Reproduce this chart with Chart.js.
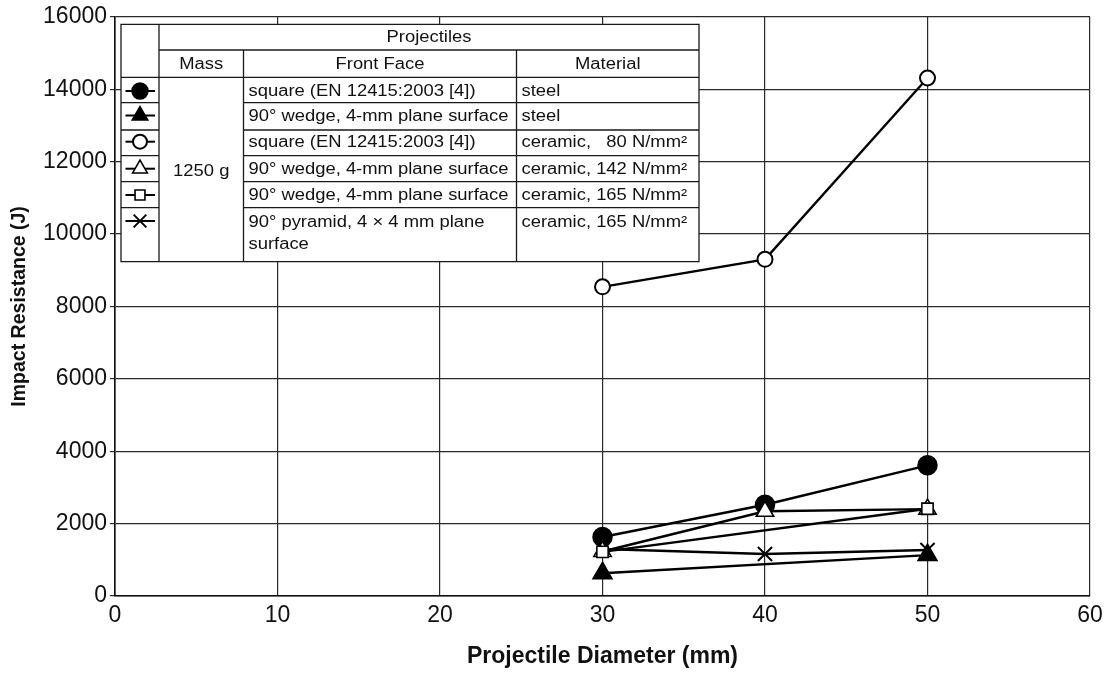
<!DOCTYPE html>
<html>
<head>
<meta charset="utf-8">
<script src="https://cdn.jsdelivr.net/npm/chart.js@4.4.1/dist/chart.umd.min.js"></script>
<style>
  html, body { margin: 0; padding: 0; background: #fff; }
  canvas { display: block; }
</style>
</head>
<body>
<canvas id="c" width="1111" height="674"></canvas>
<script>
// ---- data ----
const diameters = [30, 40, 50];
const steelSquare       = [1630, 2520, 3610];
const steelWedge        = [630, null, 1130];
const ceramic80Square   = [8540, 9300, 14310];
const ceramic142Wedge   = [1230, 2340, 2400];
const ceramic165Wedge   = [1220, null, 2410];
const ceramic165Pyramid = [1300, 1160, 1270];

const xTickValues = [0, 10, 20, 30, 40, 50, 60];
const yTickValues = [0, 2000, 4000, 6000, 8000, 10000, 12000, 14000, 16000];

const tableTitle = 'Projectiles';
const tableHeaders = ['Mass', 'Front Face', 'Material'];
const massLabel = '1250 g';
const frontFaces = [
  'square (EN 12415:2003 [4])',
  '90° wedge, 4-mm plane surface',
  'square (EN 12415:2003 [4])',
  '90° wedge, 4-mm plane surface',
  '90° wedge, 4-mm plane surface',
  ['90° pyramid, 4 × 4 mm plane', 'surface']
];
const materials = [
  'steel',
  'steel',
  'ceramic,   80 N/mm²',
  'ceramic, 142 N/mm²',
  'ceramic, 165 N/mm²',
  'ceramic, 165 N/mm²'
];

const FONT = '"Liberation Sans", Arial, Helvetica, sans-serif';

function pts(arr) {
  const out = [];
  diameters.forEach((x, i) => { if (arr[i] !== null) out.push({ x: x, y: arr[i] }); });
  return out;
}

const seriesDefs = [
  { data: steelSquare,       style: 'circle',   radius: 9.5, legR: 8,   fill: '#000', bw: 1.5, order: 6 },
  { data: steelWedge,        style: 'triangle', radius: 11,  legR: 9,   fill: '#000', bw: 1.5, order: 4 },
  { data: ceramic80Square,   style: 'circle',   radius: 7.5, legR: 7,   fill: '#fff', bw: 2,   order: 2 },
  { data: ceramic142Wedge,   style: 'triangle', radius: 10,  legR: 8.5, fill: '#fff', bw: 1.6, order: 3 },
  { data: ceramic165Wedge,   style: 'rect',     radius: 8,   legR: 7,   fill: '#fff', bw: 1.6, order: 1 },
  { data: ceramic165Pyramid, style: 'crossRot', radius: 10,  legR: 9,   fill: '#000', bw: 2,   order: 5 }
];

const datasets = seriesDefs.map((s, i) => ({
  label: 'series ' + (i + 1),
  data: pts(s.data),
  showLine: true,
  spanGaps: true,
  borderColor: '#000',
  borderWidth: 2.4,
  backgroundColor: s.fill,
  pointStyle: s.style,
  pointRadius: s.radius,
  pointBackgroundColor: s.fill,
  pointBorderColor: '#000',
  pointBorderWidth: s.bw,
  tension: 0,
  order: s.order
}));

function drawMarker(ctx, style, r, fill, bw, x, y) {
  ctx.save();
  ctx.fillStyle = fill;
  ctx.strokeStyle = '#000';
  ctx.lineWidth = bw;
  if (Chart.helpers && Chart.helpers.drawPoint) {
    Chart.helpers.drawPoint(ctx, { pointStyle: style, radius: r, rotation: 0, borderWidth: bw }, x, y);
  } else {
    ctx.beginPath();
    if (style === 'circle') { ctx.arc(x, y, r, 0, Math.PI * 2); ctx.fill(); ctx.stroke(); }
    else if (style === 'triangle') {
      ctx.moveTo(x, y - r); ctx.lineTo(x + r * 0.866, y + r / 2); ctx.lineTo(x - r * 0.866, y + r / 2); ctx.closePath(); ctx.fill(); ctx.stroke();
    } else if (style === 'rect') {
      const h = r * Math.SQRT1_2; ctx.rect(x - h, y - h, 2 * h, 2 * h); ctx.fill(); ctx.stroke();
    } else {
      const h = r * Math.SQRT1_2; ctx.moveTo(x - h, y - h); ctx.lineTo(x + h, y + h); ctx.moveTo(x + h, y - h); ctx.lineTo(x - h, y + h); ctx.stroke();
    }
  }
  ctx.restore();
}

const tablePlugin = {
  id: 'tableLegend',
  beforeDatasetsDraw(chart) {
    const ctx = chart.ctx;
    const L = 121, C1 = 159, C2 = 243.5, C3 = 516.5, R = 699;
    const T = 24.3, H1 = 50, H2 = 77.3;
    const rows = [77.3, 102.7, 130, 155.7, 181.7, 207.7, 261.7];
    const B = rows[rows.length - 1];
    ctx.save();
    ctx.fillStyle = '#fff';
    ctx.fillRect(L, T, R - L, B - T);
    ctx.strokeStyle = '#1a1a1a';
    ctx.lineWidth = 1.3;
    ctx.beginPath();
    ctx.rect(L, T, R - L, B - T);
    ctx.moveTo(C1, T); ctx.lineTo(C1, B);
    ctx.moveTo(C1, H1); ctx.lineTo(R, H1);
    ctx.moveTo(L, H2); ctx.lineTo(R, H2);
    ctx.moveTo(C2, H1); ctx.lineTo(C2, B);
    ctx.moveTo(C3, H1); ctx.lineTo(C3, B);
    for (let i = 1; i < rows.length - 1; i++) {
      ctx.moveTo(L, rows[i]); ctx.lineTo(C1, rows[i]);
      ctx.moveTo(C2, rows[i]); ctx.lineTo(R, rows[i]);
    }
    ctx.stroke();

    const sx = 1.15;
    ctx.fillStyle = '#111';
    ctx.font = '16px ' + FONT;
    ctx.textBaseline = 'middle';
    function txt(s, x, y, align) {
      ctx.save();
      ctx.translate(x, y);
      ctx.scale(sx, 1);
      ctx.textAlign = align;
      ctx.fillText(s, 0, 0);
      ctx.restore();
    }
    txt(tableTitle, (C1 + R) / 2, 37.7, 'center');
    txt(tableHeaders[0], (C1 + C2) / 2, 64.3, 'center');
    txt(tableHeaders[1], (C2 + C3) / 2, 64.3, 'center');
    txt(tableHeaders[2], (C3 + R) / 2, 64.3, 'center');
    txt(massLabel, (C1 + C2) / 2, 171.7, 'center');

    const textY = [91.5, 116.5, 143, 169.5, 196];
    const markY = [91, 115.5, 141.7, 168.7, 195, 221];
    for (let i = 0; i < frontFaces.length; i++) {
      const ff = frontFaces[i];
      if (Array.isArray(ff)) {
        txt(ff[0], C2 + 5, 223, 'left');
        txt(ff[1], C2 + 5, 245, 'left');
        txt(materials[i], C3 + 5, 223, 'left');
      } else {
        txt(ff, C2 + 5, textY[i], 'left');
        txt(materials[i], C3 + 5, textY[i], 'left');
      }
      ctx.save();
      ctx.strokeStyle = '#000';
      ctx.lineWidth = 2;
      ctx.beginPath();
      ctx.moveTo(125.5, markY[i]); ctx.lineTo(155, markY[i]);
      ctx.stroke();
      ctx.restore();
      const s = seriesDefs[i];
      drawMarker(ctx, s.style, s.legR, s.fill, s.bw, 140, markY[i]);
    }
    ctx.restore();
  }
};

new Chart(document.getElementById('c'), {
  type: 'line',
  data: { datasets: datasets },
  options: {
    responsive: false,
    animation: false,
    events: [],
    layout: { padding: { top: 15, right: 21, left: 0, bottom: 0 } },
    plugins: { legend: { display: false }, tooltip: { enabled: false } },
    scales: {
      x: {
        type: 'linear',
        min: 0, max: 60,
        afterBuildTicks: (scale) => { scale.ticks = xTickValues.map(v => ({ value: v })); },
        afterFit: (scale) => { scale.height = 78; },
        ticks: { color: '#111', font: { family: FONT, size: 23 }, padding: 6, maxRotation: 0 },
        grid: { color: '#2a2a2a', lineWidth: 1.2, drawTicks: false },
        border: { color: '#111', width: 1.6 },
        title: {
          display: true, text: 'Projectile Diameter (mm)', color: '#111',
          font: { family: FONT, size: 23, weight: 'bold' }, padding: { top: 0, bottom: 4 }
        }
      },
      y: {
        type: 'linear',
        min: 0, max: 16000,
        afterBuildTicks: (scale) => { scale.ticks = yTickValues.map(v => ({ value: v })); },
        afterFit: (scale) => { scale.width = 115; },
        ticks: { color: '#111', font: { family: FONT, size: 23 }, padding: 3, callback: (v) => String(v) },
        grid: { color: '#2a2a2a', lineWidth: 1.2, drawTicks: true, tickLength: 5, tickColor: '#2a2a2a' },
        border: { color: '#111', width: 1.6 },
        title: {
          display: true, text: 'Impact Resistance (J)', color: '#111',
          font: { family: FONT, size: 19.5, weight: 'bold' }, padding: { top: 8, bottom: 0 }
        }
      }
    }
  },
  plugins: [tablePlugin]
});
</script>
</body>
</html>
